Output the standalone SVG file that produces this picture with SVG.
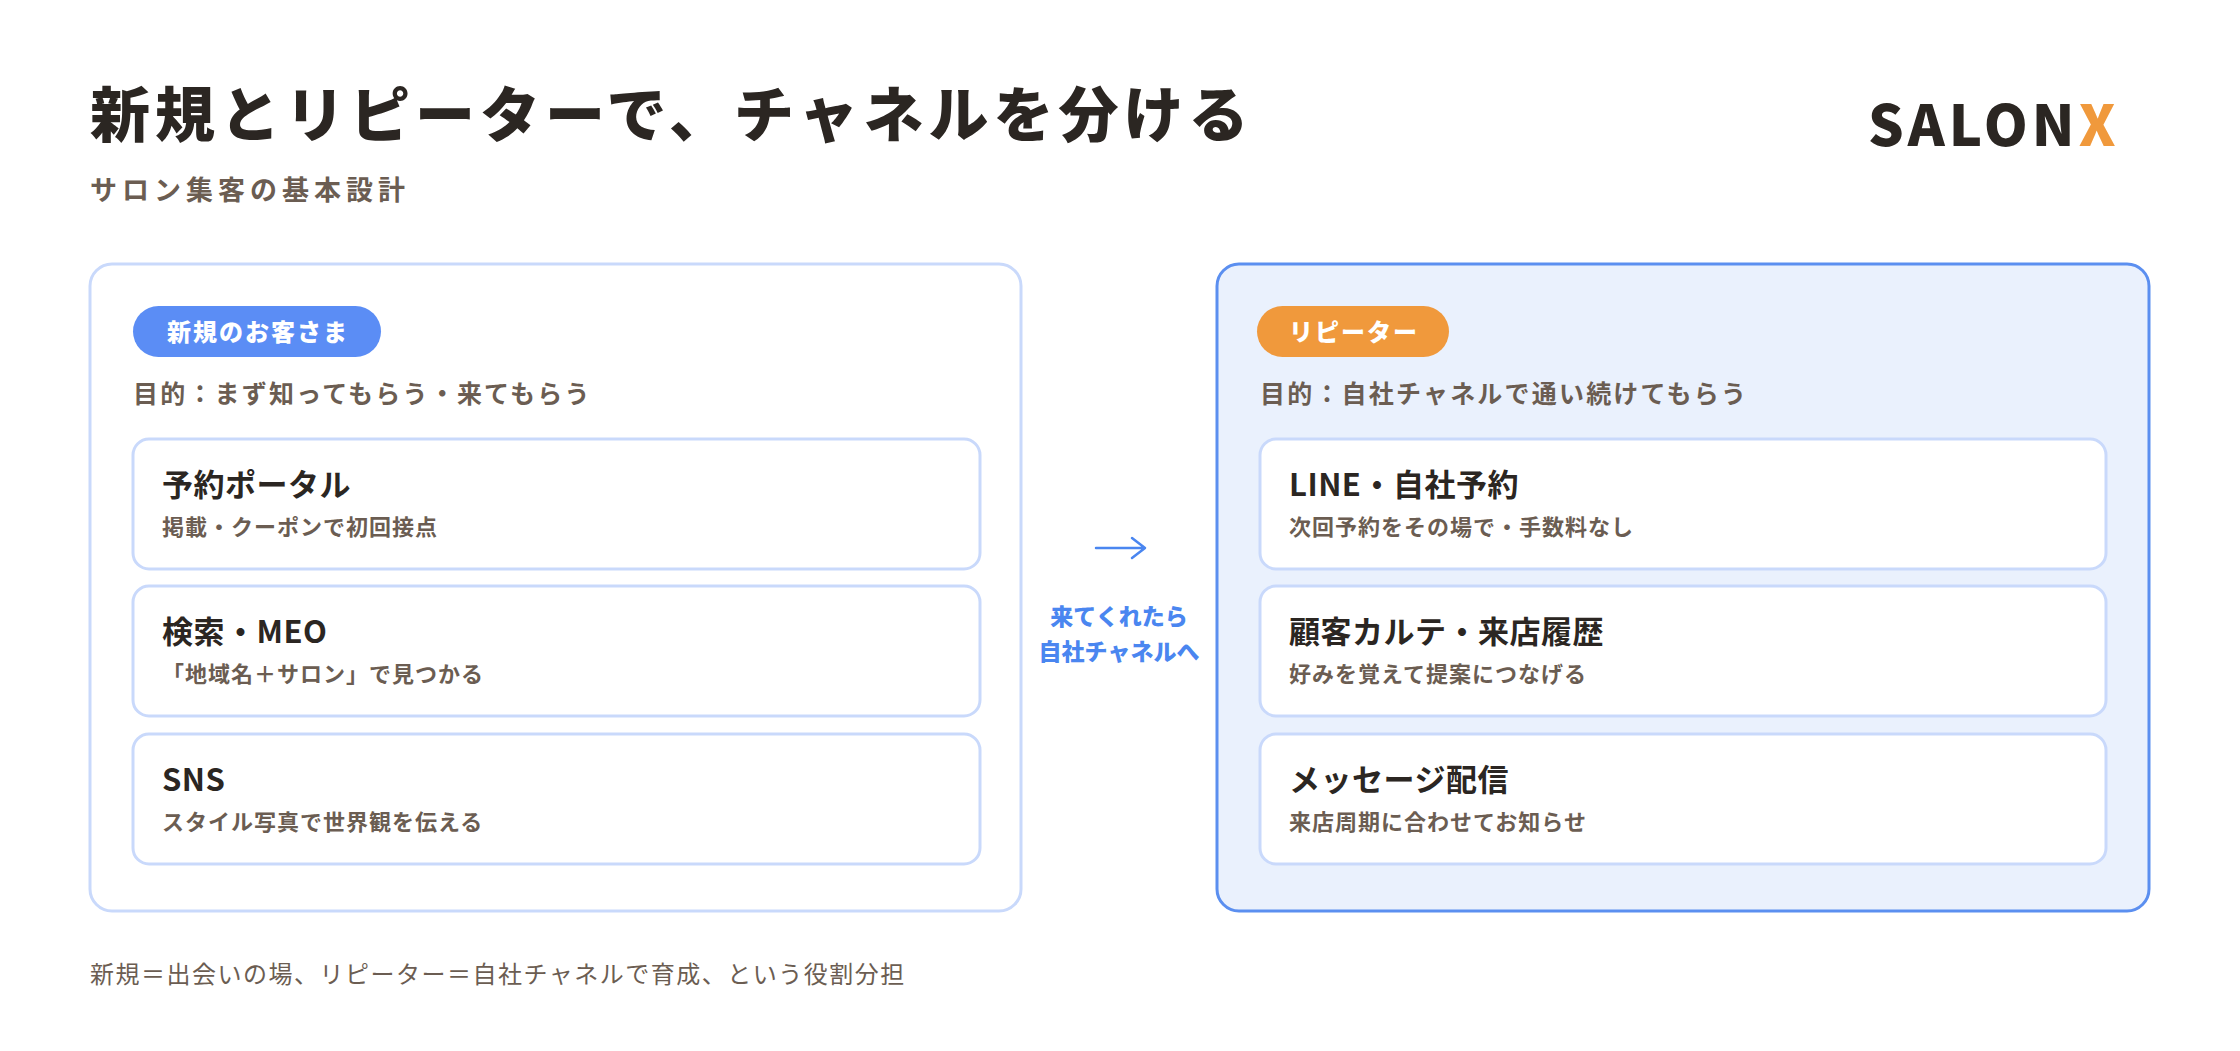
<svg xmlns="http://www.w3.org/2000/svg" width="2240" height="1051" viewBox="0 0 2240 1051">
<style>
text{font-family:"Noto Sans CJK JP","Noto Sans",sans-serif}
.t{fill:#2b2622;font-weight:900}
.s{fill:#6b5d52;font-weight:700}
.card{fill:#fff;stroke:#c9d9fb;stroke-width:3}
.ct{fill:#2b2622;font-weight:700;font-size:31px;letter-spacing:0.5px}
.cs{fill:#6b5d52;font-weight:700;font-size:22px;letter-spacing:1px}
.badge{fill:#fff;font-weight:900;font-size:24px;letter-spacing:2px}
</style>
<rect width="2240" height="1051" fill="#fff"/>
<text class="t" x="90" y="137" font-size="60" letter-spacing="5">新規とリピーターで、チャネルを分ける</text>
<text class="s" x="90" y="200" font-size="27" letter-spacing="5">サロン集客の基本設計</text>
<text x="1868" y="146" font-family="Inter,'Liberation Sans',sans-serif" font-weight="800" font-size="56" fill="#2b2622" letter-spacing="4">SALON<tspan fill="#f0993c">X</tspan></text>
<g id="new">
<rect x="90" y="264" width="931" height="647" rx="22" fill="#fff" stroke="#c9d9fb" stroke-width="3"/>
<rect x="133" y="306" width="248" height="51" rx="25.5" fill="#5b8df5"/>
<text class="badge" x="258" y="341" text-anchor="middle">新規のお客さま</text>
<text class="s" x="133" y="403" font-size="25" letter-spacing="2.2">目的：まず知ってもらう・来てもらう</text>
</g>
<g id="n1"><rect class="card" x="133" y="439" width="847" height="130" rx="16"/><text class="ct" x="162" y="496">予約ポータル</text><text class="cs" x="162" y="535">掲載・クーポンで初回接点</text></g>
<g id="n2"><rect class="card" x="133" y="586" width="847" height="130" rx="16"/><text class="ct" x="162" y="643">検索・MEO</text><text class="cs" x="162" y="682">「地域名＋サロン」で見つかる</text></g>
<g id="n3"><rect class="card" x="133" y="734" width="847" height="130" rx="16"/><text class="ct" x="162" y="791">SNS</text><text class="cs" x="162" y="830">スタイル写真で世界観を伝える</text></g>
<g id="rep">
<rect x="1217" y="264" width="932" height="647" rx="22" fill="#eaf1fd" stroke="#5b8ff0" stroke-width="3"/>
<rect x="1257" y="306" width="192" height="51" rx="25.5" fill="#f0993c"/>
<text class="badge" x="1354" y="341" text-anchor="middle">リピーター</text>
<text class="s" x="1260" y="403" font-size="25" letter-spacing="2.2">目的：自社チャネルで通い続けてもらう</text>
</g>
<g id="r1"><rect class="card" x="1260" y="439" width="846" height="130" rx="16"/><text class="ct" x="1289" y="496">LINE・自社予約</text><text class="cs" x="1289" y="535">次回予約をその場で・手数料なし</text></g>
<g id="r2"><rect class="card" x="1260" y="586" width="846" height="130" rx="16"/><text class="ct" x="1289" y="643">顧客カルテ・来店履歴</text><text class="cs" x="1289" y="682">好みを覚えて提案につなげる</text></g>
<g id="r3"><rect class="card" x="1260" y="734" width="846" height="130" rx="16"/><text class="ct" x="1289" y="791">メッセージ配信</text><text class="cs" x="1289" y="830">来店周期に合わせてお知らせ</text></g>
<g id="connectors">
<path d="M1096 548H1144M1132 538L1145 548L1132 558" fill="none" stroke="#4a86f0" stroke-width="2.5" stroke-linecap="round" stroke-linejoin="round"/>
<text x="1119" y="625" text-anchor="middle" font-weight="900" font-size="23" fill="#4a86f0">来てくれたら</text>
<text x="1119" y="660" text-anchor="middle" font-weight="900" font-size="23" fill="#4a86f0">自社チャネルへ</text>
</g>
<text x="90" y="983" font-size="24" fill="#6b5d52" letter-spacing="1.5">新規＝出会いの場、リピーター＝自社チャネルで育成、という役割分担</text>
</svg>
